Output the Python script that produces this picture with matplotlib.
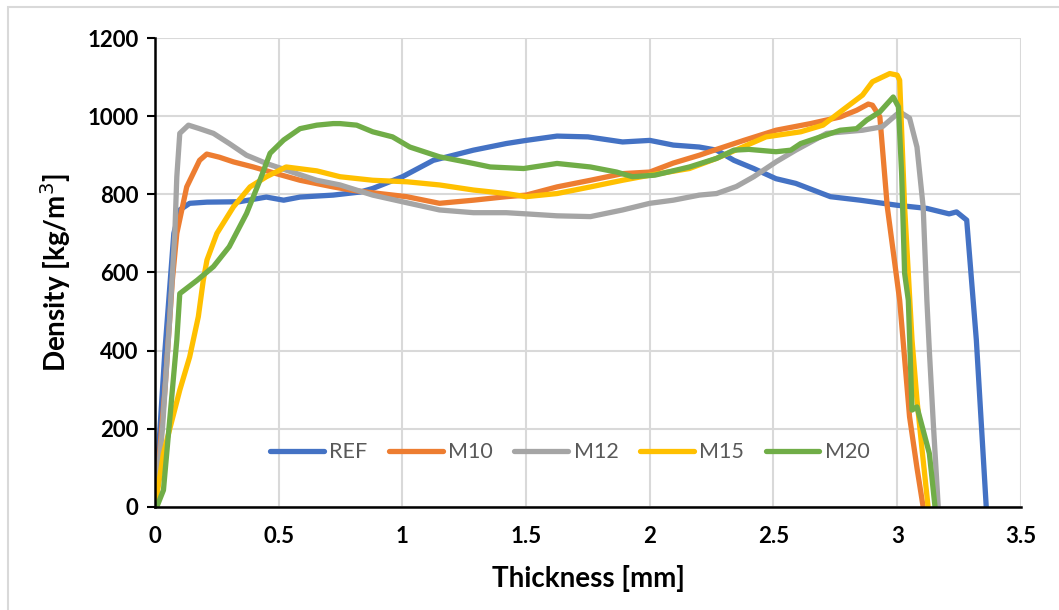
import matplotlib
matplotlib.use('Agg')
import matplotlib.pyplot as plt
from matplotlib.patches import Rectangle

plt.rcParams['font.family'] = ['Lato', 'DejaVu Sans']

# density profiles (thickness mm, density kg/m3)
ref_x = [0, 0.04, 0.076, 0.10, 0.14, 0.21, 0.34, 0.45, 0.52, 0.586, 0.72, 0.83, 0.88, 1.0,
         1.125, 1.287, 1.42, 1.5, 1.625, 1.75, 1.89, 2.0, 2.095, 2.2, 2.27, 2.34, 2.42, 2.51,
         2.59, 2.73, 2.85, 3.0, 3.12, 3.21, 3.24, 3.281, 3.32, 3.36]
ref_y = [0, 400, 700, 760, 777, 780, 781, 793, 785, 793, 798, 806, 815, 845,
         887, 913, 930, 938, 949, 947, 934, 938, 926, 921, 913, 887, 866, 840,
         828, 794, 785, 772, 764, 750, 755, 734, 427, 0]

m10_x = [0, 0.04, 0.07, 0.088, 0.128, 0.18, 0.209, 0.26, 0.317, 0.397, 0.49, 0.586, 0.72,
         0.80, 0.88, 1.017, 1.15, 1.287, 1.42, 1.5, 1.625, 1.76, 1.89, 2.0, 2.095, 2.2,
         2.27, 2.38, 2.51, 2.65, 2.77, 2.836, 2.883, 2.90, 2.93, 2.96, 3.01, 3.05, 3.08, 3.105]
m10_y = [0, 300, 580, 700, 819, 887, 903, 895, 883, 870, 853, 836, 819,
         810, 804, 794, 777, 785, 794, 798, 819, 836, 853, 857, 880, 900,
         915, 938, 964, 981, 998, 1015, 1031, 1028, 998, 768, 529, 231, 100, 0]

m12_x = [0, 0.03, 0.06, 0.08, 0.088, 0.10, 0.135, 0.18, 0.236, 0.30, 0.37, 0.45, 0.53,
         0.654, 0.748, 0.88, 1.0, 1.15, 1.287, 1.42, 1.5, 1.625, 1.76, 1.89, 2.0, 2.095,
         2.2, 2.27, 2.35, 2.42, 2.51, 2.59, 2.715, 2.86, 2.94, 3.01, 3.05, 3.08, 3.105,
         3.12, 3.13, 3.146, 3.166]
m12_y = [0, 200, 487, 700, 845, 956, 977, 968, 956, 930, 900, 879, 862,
         836, 824, 798, 781, 760, 753, 753, 750, 745, 743, 760, 777, 785,
         798, 802, 820, 845, 883, 913, 956, 964, 973, 1011, 995, 921, 768,
         529, 400, 214, 0]

m15_x = [0, 0.034, 0.10, 0.14, 0.175, 0.195, 0.21, 0.25, 0.317, 0.384, 0.45, 0.53, 0.654,
         0.748, 0.88, 1.02, 1.15, 1.287, 1.42, 1.5, 1.625, 1.76, 1.89, 2.0, 2.16, 2.27,
         2.47, 2.61, 2.70, 2.77, 2.86, 2.90, 2.97, 3.0, 3.01, 3.03, 3.06, 3.08, 3.10, 3.125]
m15_y = [0, 137, 299, 384, 487, 580, 632, 700, 768, 819, 845, 870, 860,
         845, 836, 832, 824, 811, 802, 794, 802, 819, 836, 849, 866, 892,
         947, 960, 977, 1011, 1054, 1088, 1109, 1105, 1092, 768, 427, 274, 150, 0]

m20_x = [0, 0.007, 0.034, 0.088, 0.10, 0.17, 0.236, 0.30, 0.37, 0.424, 0.465, 0.52, 0.586,
         0.654, 0.72, 0.748, 0.815, 0.88, 0.96, 1.03, 1.15, 1.287, 1.355, 1.49, 1.625,
         1.76, 1.866, 1.93, 2.02, 2.16, 2.27, 2.34, 2.40, 2.51, 2.57, 2.61, 2.69, 2.77,
         2.836, 2.877, 2.93, 2.984, 3.005, 3.018, 3.03, 3.045, 3.06, 3.08, 3.13, 3.153]
m20_y = [0, 0, 43, 427, 546, 580, 615, 666, 751, 836, 905, 939, 968,
         977, 981, 981, 977, 960, 947, 921, 896, 879, 870, 866, 879,
         870, 857, 845, 849, 870, 892, 913, 915, 909, 913, 930, 947, 964,
         968, 990, 1011, 1049, 1024, 853, 598, 529, 248, 256, 137, 0]

series = [
    ('REF', ref_x, ref_y, '#4472C4'),
    ('M10', m10_x, m10_y, '#ED7D31'),
    ('M12', m12_x, m12_y, '#A5A5A5'),
    ('M15', m15_x, m15_y, '#FFC000'),
    ('M20', m20_x, m20_y, '#70AD47'),
]

fig = plt.figure(figsize=(10.59, 6.10), dpi=100)
ax = fig.add_axes([0.1464, 0.1689, 0.8176, 0.7688])

# thin grey frame around the chart area, like the Excel export
fig.patches.append(Rectangle((8 / 1059, -0.1), 1.2, 1.1 - 7 / 610, transform=fig.transFigure,
                             fill=False, edgecolor='#D9D9D9', linewidth=1.5))

for name, xs, ys, col in series:
    ax.plot(xs, ys, color=col, linewidth=3.8, label=name, solid_capstyle='round')

ax.set_xlim(0, 3.5)
ax.set_ylim(0, 1200)
ax.set_xticks([0, 0.5, 1, 1.5, 2, 2.5, 3, 3.5])
ax.set_xticklabels(['0', '0.5', '1', '1.5', '2', '2.5', '3', '3.5'])
ax.set_yticks(range(0, 1201, 200))
ax.grid(True, color='#D9D9D9', linewidth=1.5)
ax.set_axisbelow(True)

for side in ['top', 'right']:
    ax.spines[side].set_visible(False)
for side in ['left', 'bottom']:
    ax.spines[side].set_linewidth(1.8)
    ax.spines[side].set_color('black')

ax.tick_params(axis='y', length=6, width=1.5, pad=6, labelsize=16)
ax.tick_params(axis='x', length=0, pad=14, labelsize=16)
for lab in ax.get_xticklabels() + ax.get_yticklabels():
    lab.set_fontweight('bold')

ax.set_xlabel('Thickness [mm]', fontsize=20, fontweight='bold', labelpad=13)
ax.set_ylabel('Density [kg/m$^3$]', fontsize=20, fontweight='bold', labelpad=10)

leg = ax.legend(loc='center', bbox_to_anchor=(0.479, 0.117), ncol=5, frameon=False,
                fontsize=15.5, handlelength=2.5, handletextpad=0.25, columnspacing=1.0)
for t in leg.get_texts():
    t.set_color('#595959')

fig.savefig('out.png', dpi=100)
